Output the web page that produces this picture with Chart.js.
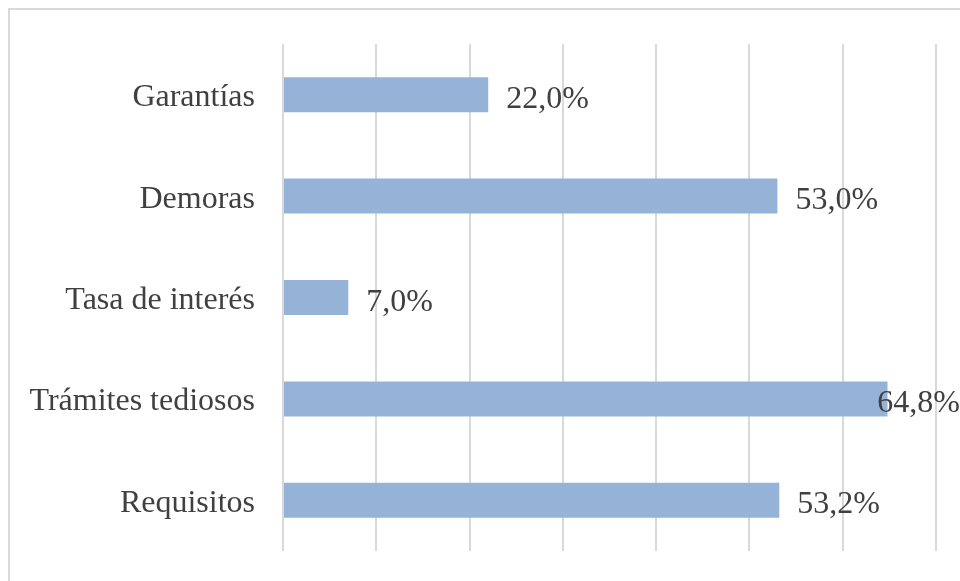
<!DOCTYPE html>
<html>
<head>
<meta charset="utf-8">
<script src="https://cdn.jsdelivr.net/npm/chart.js@4"></script>
<style>
    html, body { margin: 0; padding: 0; background: #fff; }
    #wrap { width: 960px; height: 581px; position: relative; }
</style>
</head>
<body>
<div id="wrap"><canvas id="barChart"></canvas></div>
<script>
// Chart data
const categories = ['Garantías', 'Demoras', 'Tasa de interés', 'Trámites tediosos', 'Requisitos'];
const percentages = [22.0, 53.0, 7.0, 64.8, 53.2];
const axisTicks = [0, 10, 20, 30, 40, 50, 60, 70];

const fontFamily = '"Liberation Serif", "Times New Roman", serif';
const fontSize = 32;
const textColor = '#404040';
const gridColor = '#d9d9d9';

// Outer frame (left and top edges visible, rest is cropped)
const framePlugin = {
    id: 'frame',
    beforeDraw: (chart) => {
        const ctx = chart.ctx;
        ctx.save();
        ctx.strokeStyle = gridColor;
        ctx.lineWidth = 2;
        ctx.beginPath();
        ctx.moveTo(9, chart.height);
        ctx.lineTo(9, 9);
        ctx.lineTo(chart.width, 9);
        ctx.stroke();
        ctx.restore();
    }
};

// Value labels at the end of each bar, kept inside the canvas
const valueLabels = {
    id: 'valueLabels',
    afterDatasetsDraw: (chart) => {
        const ctx = chart.ctx;
        const meta = chart.getDatasetMeta(0);
        ctx.save();
        ctx.font = fontSize + 'px ' + fontFamily;
        ctx.fillStyle = textColor;
        ctx.textAlign = 'left';
        ctx.textBaseline = 'alphabetic';
        meta.data.forEach((bar, i) => {
            const text = percentages[i].toFixed(1).replace('.', ',') + '%';
            const w = ctx.measureText(text).width;
            let x = bar.x + 18;
            if (x + w > chart.width) x = chart.width - w;
            ctx.fillText(text, x, bar.y + 13);
        });
        ctx.restore();
    }
};

new Chart(document.getElementById('barChart'), {
    type: 'bar',
    data: {
        labels: categories,
        datasets: [{
            data: percentages,
            backgroundColor: '#95b3d7',
            borderWidth: 0,
            barPercentage: 0.345,
            categoryPercentage: 1
        }]
    },
    options: {
        indexAxis: 'y',
        responsive: true,
        maintainAspectRatio: false,
        animation: false,
        layout: {
            padding: { top: 44, bottom: 30, right: 24, left: 0 }
        },
        plugins: {
            legend: { display: false },
            tooltip: { enabled: false }
        },
        scales: {
            x: {
                min: axisTicks[0],
                max: axisTicks[axisTicks.length - 1],
                afterBuildTicks: (scale) => {
                    scale.ticks = axisTicks.map(v => ({ value: v }));
                },
                afterFit: (scale) => { scale.height = 0; },
                ticks: { display: false },
                border: { display: false },
                grid: {
                    color: gridColor,
                    lineWidth: 2,
                    drawTicks: false
                }
            },
            y: {
                afterFit: (scale) => {
                    scale.width = 283;
                    // the tick padding should only act horizontally
                    scale.paddingTop = 0;
                    scale.paddingBottom = 0;
                },
                border: { display: false },
                grid: { display: false, drawTicks: false },
                ticks: {
                    color: textColor,
                    padding: 28,
                    labelOffset: 3,
                    font: { family: fontFamily, size: fontSize }
                }
            }
        }
    },
    plugins: [framePlugin, valueLabels]
});
</script>
</body>
</html>
